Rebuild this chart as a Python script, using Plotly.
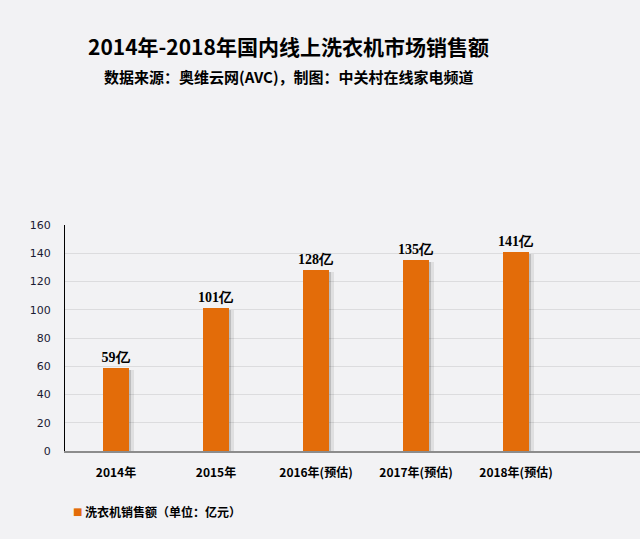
import plotly.graph_objects as go

categories = ["2014年", "2015年", "2016年(预估)", "2017年(预估)", "2018年(预估)"]
sales = [59, 101, 128, 135, 141]
labels = ["59亿", "101亿", "128亿", "135亿", "141亿"]
series_name = "洗衣机销售额（单位：亿元）"
title_text = "2014年-2018年国内线上洗衣机市场销售额"
subtitle_text = "数据来源：奥维云网(AVC)，制图：中关村在线家电频道"
y_ticks = [0, 20, 40, 60, 80, 100, 120, 140, 160]

ORANGE = "#E36C09"
BG = "#F2F2F4"
CJK = "Noto Sans CJK SC, Microsoft YaHei, sans-serif"

fig = go.Figure()
# soft shadows to the right of each bar
fig.add_trace(go.Bar(
    x=categories, y=[v - 1.5 for v in sales], width=0.20, offset=-0.02,
    marker=dict(color="rgba(0,0,0,0.08)", line=dict(width=0)),
    hoverinfo="skip", showlegend=False,
))
fig.add_trace(go.Bar(
    x=categories, y=[v - 1.5 for v in sales], width=0.17, offset=-0.02,
    marker=dict(color="rgba(0,0,0,0.15)", line=dict(width=0)),
    hoverinfo="skip", showlegend=False,
))
fig.add_trace(go.Bar(
    x=categories, y=sales, name=series_name, width=0.26, offset=-0.13,
    marker=dict(color=ORANGE, line=dict(width=0)),
    text=labels, textposition="outside", cliponaxis=False, constraintext="none",
    textfont=dict(family="Liberation Serif, Times New Roman, serif", size=14, color="#000", weight="bold"),
    showlegend=False,
))

fig.update_layout(
    width=640, height=539,
    paper_bgcolor=BG, plot_bgcolor=BG,
    margin=dict(l=65, r=0, t=225, b=88),
    barmode="overlay",
    bargap=0,
    xaxis=dict(
        type="category", range=[-0.51, 5.24],
        showgrid=False, showline=True, linecolor="#8c8c8c", linewidth=2,
        ticks="", tickfont=dict(family=CJK, size=12, color="#000", weight="bold"),
        ticklabelstandoff=10,
    ),
    yaxis=dict(
        range=[0, 160], tickvals=y_ticks, showgrid=True, gridcolor="#DCDCDE", gridwidth=1,
        showline=True, linecolor="#000", linewidth=1, zeroline=False,
        ticks="", tickfont=dict(family="DejaVu Sans, Verdana, sans-serif", size=11, color="#1a1a33"),
        ticklabelstandoff=11,
    ),
    annotations=[
        dict(text=f"<b>{title_text}</b>", xref="paper", yref="paper", x=(288-65)/575, y=1 + (225-46)/226,
             showarrow=False, xanchor="center", yanchor="middle",
             font=dict(family=CJK, size=21, color="#000")),
        dict(text=f"<b>{subtitle_text}</b>", xref="paper", yref="paper", x=(289-65)/575, y=1 + (225-76)/226,
             showarrow=False, xanchor="center", yanchor="middle",
             font=dict(family=CJK, size=15, color="#000")),
        dict(text="■", xref="paper", yref="paper", x=(77-65)/575, y=-(511-451)/226,
             showarrow=False, xanchor="center", yanchor="middle",
             font=dict(family="DejaVu Sans", size=10, color=ORANGE)),
        dict(text=f"<b>{series_name}</b>", xref="paper", yref="paper", x=(83-65)/575, y=-(511-451)/226,
             showarrow=False, xanchor="left", yanchor="middle",
             font=dict(family=CJK, size=12, color="#000")),
    ],
)

fig.write_html("out.html", config={"displayModeBar": False},
               post_script="document.body.style.margin='0';")
